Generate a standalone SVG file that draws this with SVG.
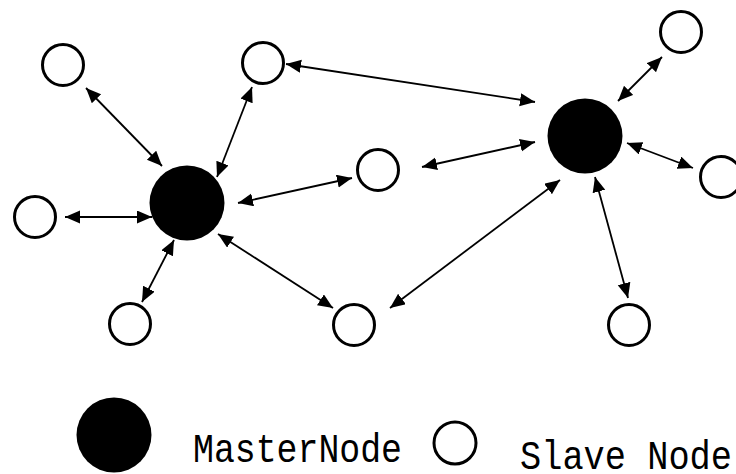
<svg xmlns="http://www.w3.org/2000/svg" width="736" height="474" viewBox="0 0 736 474">
<style>
.slave{fill:#fff;stroke:#000;stroke-width:3}
.master{fill:#000}
.conn line{stroke:#000;stroke-width:1.8;marker-start:url(#ah);marker-end:url(#ah)}
.lbl{font-family:"Liberation Mono","DejaVu Sans Mono",monospace;fill:#000}
</style>
<defs>
<marker id="ah" markerUnits="userSpaceOnUse" markerWidth="16" markerHeight="14" refX="15" refY="6.5" orient="auto-start-reverse">
<path d="M0,0 L15,6.5 L0,13 z" fill="#000"/>
</marker>
</defs>
<rect width="736" height="474" fill="#fff"/>
<g id="connectors" class="conn">
<line x1="86" y1="88" x2="162" y2="166"/>
<line x1="252" y1="87" x2="217" y2="177"/>
<line x1="65" y1="217" x2="152" y2="217"/>
<line x1="352" y1="178" x2="238" y2="203"/>
<line x1="142" y1="302" x2="174" y2="240"/>
<line x1="333" y1="308" x2="218" y2="234"/>
<line x1="286" y1="64" x2="535" y2="102"/>
<line x1="422" y1="167" x2="535" y2="142"/>
<line x1="390" y1="308" x2="560" y2="180"/>
<line x1="662" y1="57" x2="618" y2="101"/>
<line x1="693" y1="168" x2="627" y2="143"/>
<line x1="628" y1="298" x2="595" y2="177"/>
</g>
<g id="master1"><circle class="master" cx="187" cy="203" r="37.5"/></g>
<g id="master2"><circle class="master" cx="585" cy="136" r="37.5"/></g>
<g id="slave1"><circle class="slave" cx="63" cy="65" r="20.5"/></g>
<g id="slave2"><circle class="slave" cx="263" cy="63" r="20.5"/></g>
<g id="slave3"><circle class="slave" cx="35" cy="217" r="20.5"/></g>
<g id="slave4"><circle class="slave" cx="378" cy="170" r="20.5"/></g>
<g id="slave5"><circle class="slave" cx="130" cy="324" r="20.5"/></g>
<g id="slave6"><circle class="slave" cx="354" cy="325" r="20.5"/></g>
<g id="slave7"><circle class="slave" cx="681" cy="32" r="20.5"/></g>
<g id="slave8"><circle class="slave" cx="721" cy="177" r="20.5"/></g>
<g id="slave9"><circle class="slave" cx="629" cy="325" r="20.5"/></g>
<g id="legend-master">
<circle class="master" cx="114" cy="435" r="37.5"/>
<text class="lbl" x="193" y="462" font-size="41" textLength="209" lengthAdjust="spacingAndGlyphs">MasterNode</text>
</g>
<g id="legend-slave">
<circle class="slave" cx="455" cy="443" r="21"/>
<text class="lbl" x="520" y="469" font-size="40" textLength="212" lengthAdjust="spacingAndGlyphs">Slave Node</text>
</g>
</svg>
